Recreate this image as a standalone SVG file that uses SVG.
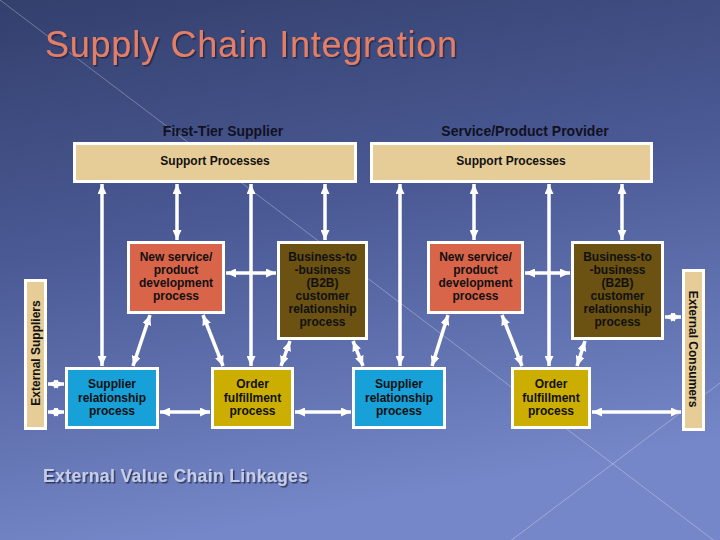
<svg xmlns="http://www.w3.org/2000/svg" width="720" height="540" viewBox="0 0 720 540">
<defs>
<linearGradient id="bg" x1="0" y1="0" x2="0.25" y2="1">
<stop offset="0" stop-color="#333f6c"/>
<stop offset="0.45" stop-color="#4a5994"/>
<stop offset="1" stop-color="#7587c8"/>
</linearGradient>
<filter id="sh" x="-5%" y="-20%" width="110%" height="150%">
<feDropShadow dx="1.5" dy="1.5" stdDeviation="0.6" flood-color="#1a2040" flood-opacity="0.75"/>
</filter>
<marker id="ah" viewBox="0 0 10 9" refX="10" refY="4.5" markerWidth="10" markerHeight="9" markerUnits="userSpaceOnUse" orient="auto-start-reverse">
<path d="M0,0 L10,4.5 L0,9 z" fill="#ffffff"/>
</marker>
<style>
.bx{stroke:#ffffff;stroke-width:3}
.tan{fill:#e6cc96}
.org{fill:#d8644a}
.brn{fill:#6b5212}
.cyn{fill:#18a0d8}
.gld{fill:#cbae00}
.t{font-family:"Liberation Sans",Arial,sans-serif;font-weight:bold;font-size:12px;fill:#111111;text-anchor:middle}
.hd{font-family:"Liberation Sans",Arial,sans-serif;font-weight:bold;font-size:14px;fill:#111122;text-anchor:middle}
.ar{stroke:#ffffff;stroke-width:3.5;fill:none;marker-start:url(#ah);marker-end:url(#ah)}
.deco{stroke:#ffffff;stroke-opacity:0.3;stroke-width:1}
</style>
</defs>
<rect x="0" y="0" width="720" height="540" fill="url(#bg)"/>
<line class="deco" x1="0" y1="0" x2="720" y2="545"/>
<line class="deco" x1="505" y1="545" x2="720" y2="383"/>

<g id="title">
<text x="45" y="57" font-family="Liberation Sans,Arial,sans-serif" font-size="36" textLength="412" fill="#e47f66" filter="url(#sh)">Supply Chain Integration</text>
</g>

<g id="headers">
<text class="hd" x="223" y="136">First-Tier Supplier</text>
<text class="hd" x="525" y="136">Service/Product Provider</text>
</g>

<g id="connectors">
<line class="ar" x1="102" y1="184" x2="102" y2="366"/>
<line class="ar" x1="177" y1="184" x2="177" y2="240"/>
<line class="ar" x1="251" y1="184" x2="251" y2="366"/>
<line class="ar" x1="325" y1="184" x2="325" y2="240"/>
<line class="ar" x1="226" y1="273" x2="276" y2="273"/>
<line class="ar" x1="150" y1="315" x2="133" y2="366"/>
<line class="ar" x1="203" y1="315" x2="223" y2="366"/>
<line class="ar" x1="290" y1="341" x2="281" y2="366"/>
<line class="ar" x1="353" y1="341" x2="363" y2="366"/>
<line class="ar" x1="160" y1="412" x2="210" y2="412"/>
<line class="ar" x1="295" y1="412" x2="351" y2="412"/>
<line class="ar" x1="48" y1="384" x2="64" y2="384"/>
<line class="ar" x1="48" y1="412" x2="64" y2="412"/>
<line class="ar" x1="400" y1="184" x2="400" y2="366"/>
<line class="ar" x1="474" y1="184" x2="474" y2="240"/>
<line class="ar" x1="549" y1="184" x2="549" y2="366"/>
<line class="ar" x1="622" y1="184" x2="622" y2="240"/>
<line class="ar" x1="525" y1="273" x2="570" y2="273"/>
<line class="ar" x1="448" y1="315" x2="432" y2="366"/>
<line class="ar" x1="502" y1="315" x2="522" y2="366"/>
<line class="ar" x1="585" y1="341" x2="577" y2="366"/>
<line class="ar" x1="665" y1="317" x2="681" y2="317"/>
<line class="ar" x1="592" y1="412" x2="681" y2="412"/>
</g>

<g id="support-left">
<rect class="bx tan" x="74.5" y="143.5" width="281" height="38"/>
<text class="t" x="215" y="165">Support Processes</text>
</g>
<g id="support-right">
<rect class="bx tan" x="371.5" y="143.5" width="280" height="38"/>
<text class="t" x="511" y="165">Support Processes</text>
</g>

<g id="newservice-left">
<rect class="bx org" x="128.5" y="242.5" width="95" height="70"/>
<text class="t" x="176" y="261">New service/</text>
<text class="t" x="176" y="274">product</text>
<text class="t" x="176" y="287">development</text>
<text class="t" x="176" y="300">process</text>
</g>
<g id="b2b-left">
<rect class="bx brn" x="278.5" y="242.5" width="88" height="96"/>
<text class="t" x="322.5" y="261">Business-to</text>
<text class="t" x="322.5" y="274">-business</text>
<text class="t" x="322.5" y="287">(B2B)</text>
<text class="t" x="322.5" y="300">customer</text>
<text class="t" x="322.5" y="313">relationship</text>
<text class="t" x="322.5" y="326">process</text>
</g>
<g id="supplier-left">
<rect class="bx cyn" x="66.5" y="368.5" width="91" height="59"/>
<text class="t" x="112" y="388">Supplier</text>
<text class="t" x="112" y="401.5">relationship</text>
<text class="t" x="112" y="415">process</text>
</g>
<g id="order-left">
<rect class="bx gld" x="212.5" y="368.5" width="80" height="59"/>
<text class="t" x="252.5" y="388">Order</text>
<text class="t" x="252.5" y="401.5">fulfillment</text>
<text class="t" x="252.5" y="415">process</text>
</g>

<g id="newservice-right">
<rect class="bx org" x="428.5" y="242.5" width="94" height="70"/>
<text class="t" x="475.5" y="261">New service/</text>
<text class="t" x="475.5" y="274">product</text>
<text class="t" x="475.5" y="287">development</text>
<text class="t" x="475.5" y="300">process</text>
</g>
<g id="b2b-right">
<rect class="bx brn" x="572.5" y="242.5" width="90" height="96"/>
<text class="t" x="617.5" y="261">Business-to</text>
<text class="t" x="617.5" y="274">-business</text>
<text class="t" x="617.5" y="287">(B2B)</text>
<text class="t" x="617.5" y="300">customer</text>
<text class="t" x="617.5" y="313">relationship</text>
<text class="t" x="617.5" y="326">process</text>
</g>
<g id="supplier-right">
<rect class="bx cyn" x="353.5" y="368.5" width="91" height="59"/>
<text class="t" x="399" y="388">Supplier</text>
<text class="t" x="399" y="401.5">relationship</text>
<text class="t" x="399" y="415">process</text>
</g>
<g id="order-right">
<rect class="bx gld" x="512.5" y="368.5" width="77" height="59"/>
<text class="t" x="551" y="388">Order</text>
<text class="t" x="551" y="401.5">fulfillment</text>
<text class="t" x="551" y="415">process</text>
</g>

<g id="external-suppliers">
<rect class="bx tan" x="25.5" y="280.5" width="20" height="148"/>
<text class="t" transform="translate(40,353) rotate(-90)">External Suppliers</text>
</g>
<g id="external-consumers">
<rect class="bx tan" x="683.5" y="270.5" width="20" height="159"/>
<text class="t" transform="translate(689,349) rotate(90)">External Consumers</text>
</g>

<g id="footer">
<text x="43" y="482" font-family="Liberation Sans,Arial,sans-serif" font-weight="bold" font-size="17.6" fill="#c6cde8" textLength="265" filter="url(#sh)">External  Value Chain Linkages</text>
</g>
</svg>
